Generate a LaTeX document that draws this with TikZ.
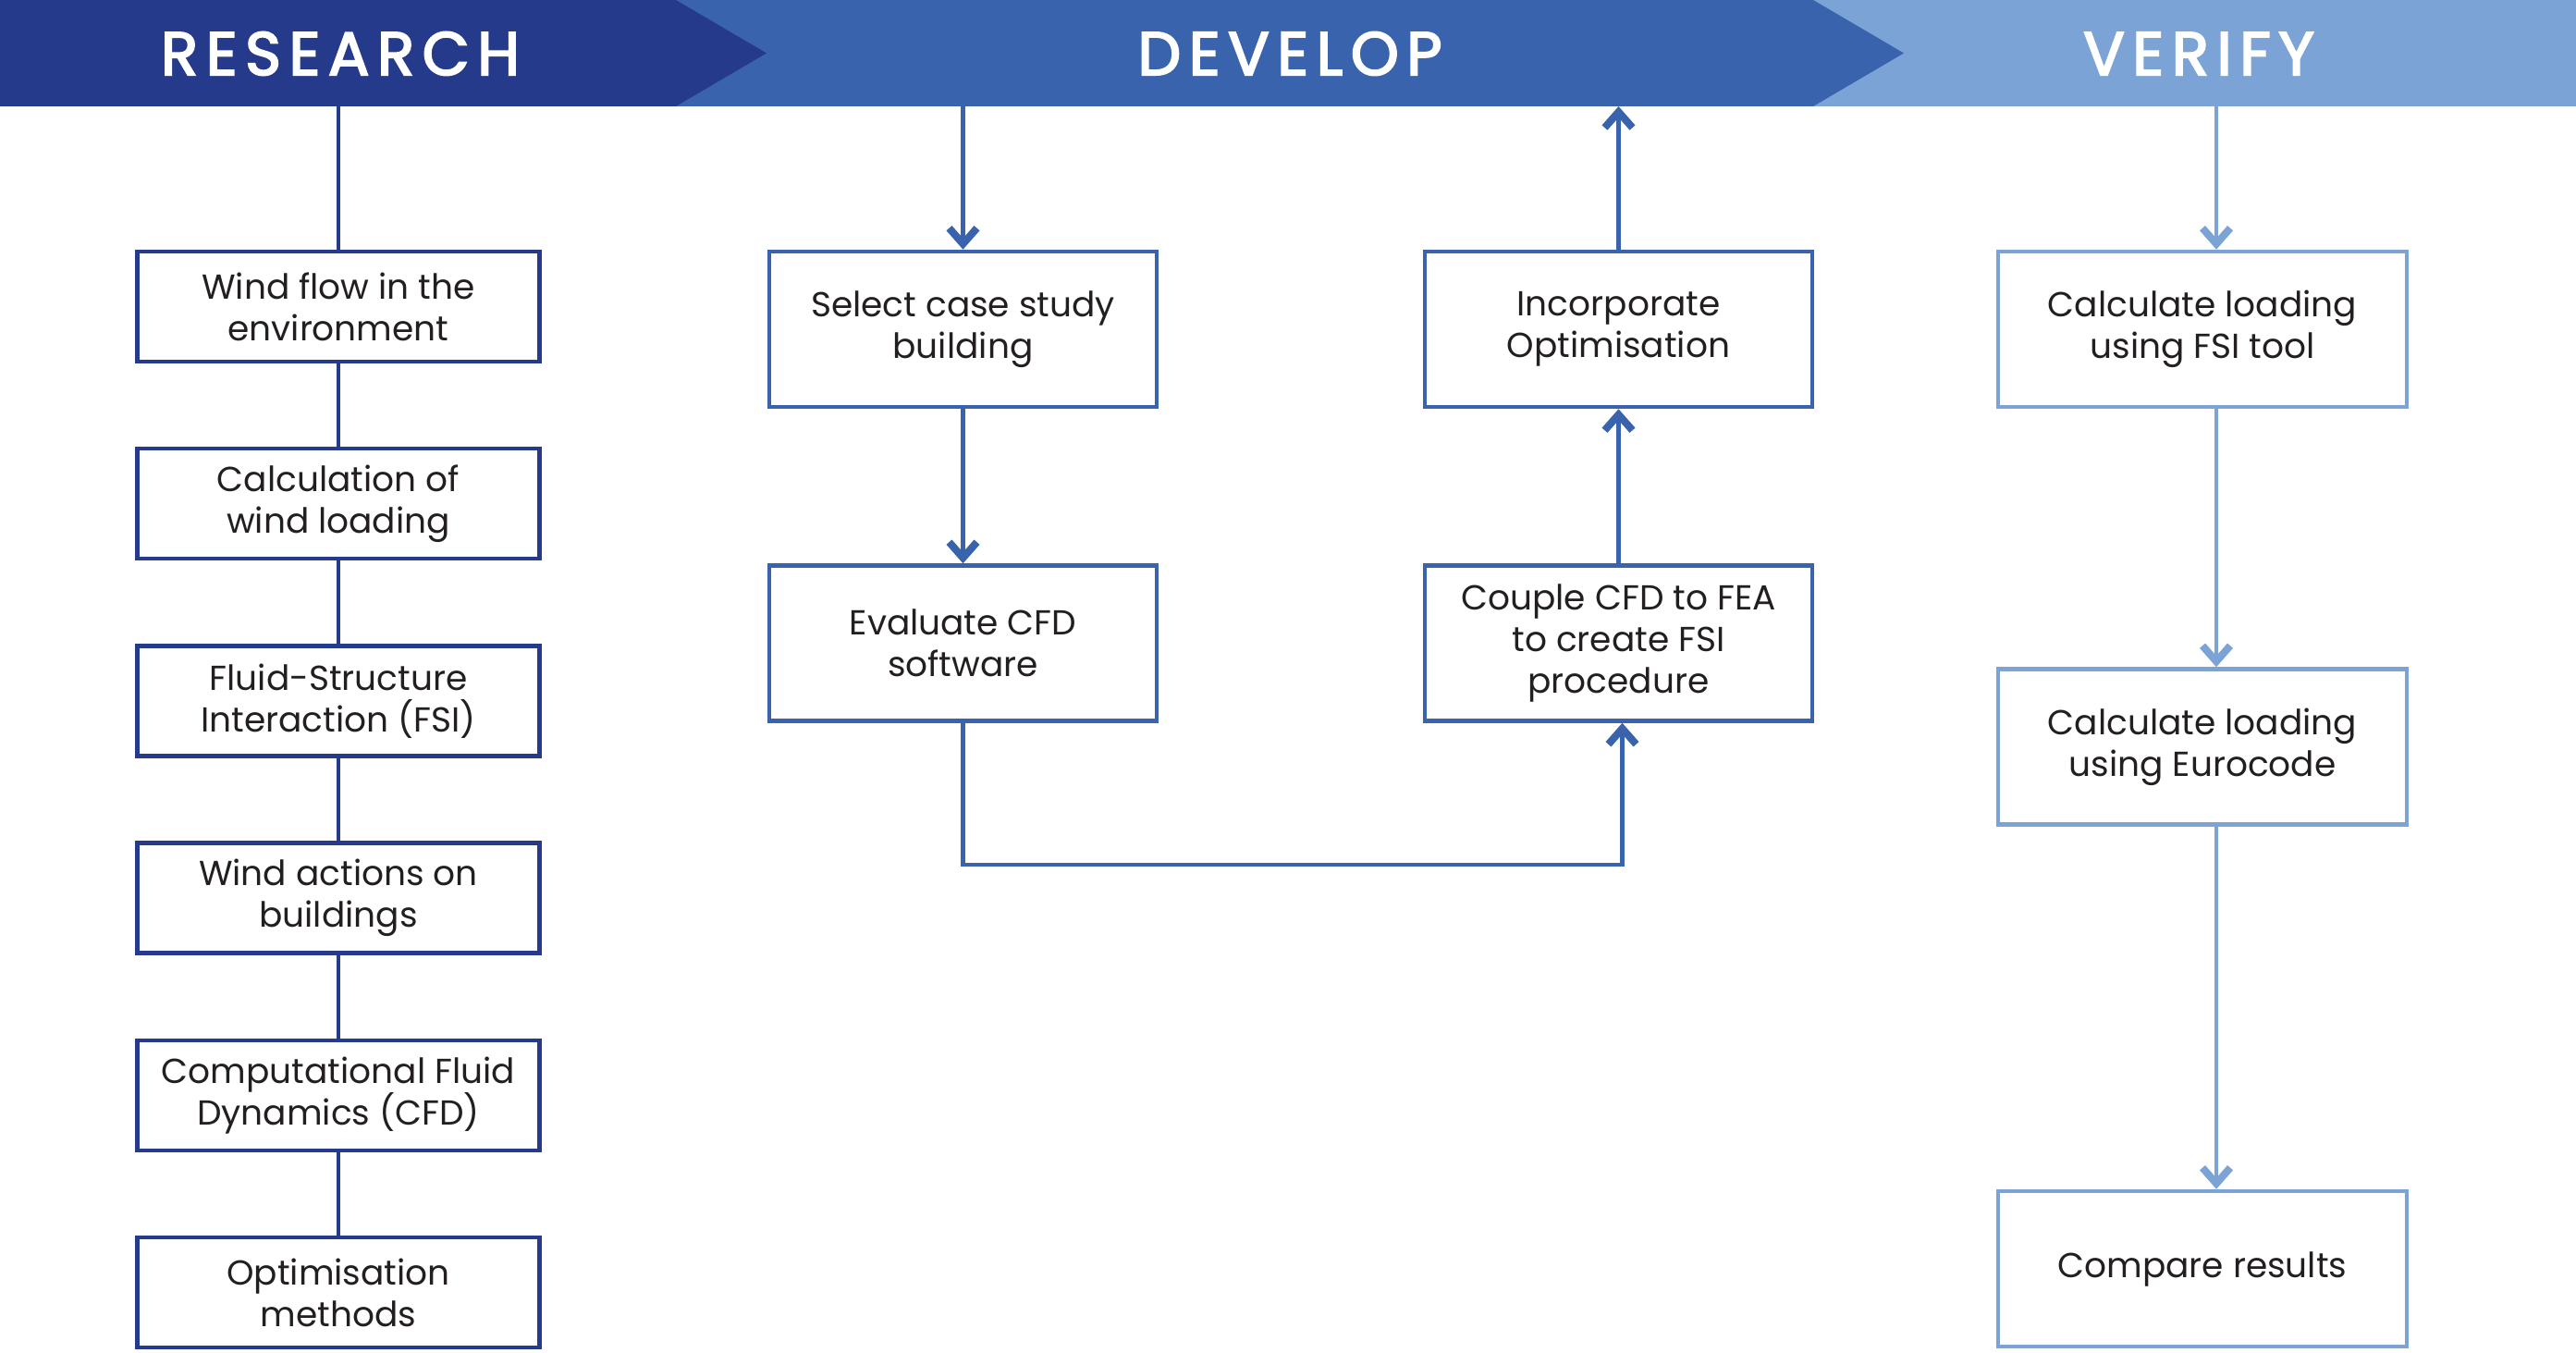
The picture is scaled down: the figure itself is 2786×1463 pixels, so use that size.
\documentclass[tikz,border=0pt]{standalone}
\usepackage{fontspec}
\setmainfont{Poppins}
\usetikzlibrary{arrows.meta}
\definecolor{cR}{HTML}{253A8A}
\definecolor{cD}{HTML}{3964AD}
\definecolor{cV}{HTML}{7BA3D5}
\definecolor{txt}{HTML}{231F20}
\tikzset{
  boxbase/.style={line width=4.5pt, fill=white, align=center, text=txt, inner sep=0pt,
    font=\fontsize{37.5}{45}\selectfont},
  rbox/.style={boxbase, draw=cR, minimum width=435pt, minimum height=119pt},
  dbox/.style={boxbase, draw=cD, minimum width=419pt, minimum height=168pt},
  vbox/.style={boxbase, draw=cV, minimum width=442pt, minimum height=168pt},
  hdrtext/.style={text=white, font=\fontsize{66}{66}\selectfont\addfontfeatures{LetterSpace=13,FakeBold=3}},
  rline/.style={draw=cR, line width=4.5pt},
  dline/.style={draw=cD, line width=4.5pt, -{Straight Barb[length=17pt,width=30pt,line width=8pt]}},
  vline/.style={draw=cV, line width=4.5pt, -{Straight Barb[length=17pt,width=30pt,line width=8pt]}},
}
\begin{document}
\begin{tikzpicture}[x=1pt,y=-1pt]
\useasboundingbox (0,0) rectangle (2786,1463);
\fill[white] (0,0) rectangle (2786,1463);
% header bands
\fill[cV] (1900,0) rectangle (2786,115);
\fill[cD] (700,0) -- (1961,0) -- (2059,57.5) -- (1961,115) -- (700,115) -- cycle;
\fill[cR] (0,0) -- (731,0) -- (829,57.5) -- (731,115) -- (0,115) -- cycle;
\node[hdrtext] (hR) at (368,58) {RESEARCH};
\node[hdrtext] (hD) at (1395,58) {DEVELOP};
\node[hdrtext] (hV) at (2378,58) {VERIFY};
% research column
\coordinate (rtop) at (366,115);
\node[rbox] (r1) at (366,331.5) {Wind flow in the\\environment};
\node[rbox] (r2) at (366,544.5) {Calculation of\\wind loading};
\node[rbox] (r3) at (366,758) {Fluid-Structure\\Interaction (FSI)};
\node[rbox] (r4) at (366,971) {Wind actions on\\buildings};
\node[rbox] (r5) at (366,1184.5) {Computational Fluid\\Dynamics (CFD)};
\node[rbox] (r6) at (366,1397.5) {Optimisation\\methods};
\draw[rline] (rtop) -- (r1.north);
\draw[rline] (r1.south) -- (r2.north);
\draw[rline] (r2.south) -- (r3.north);
\draw[rline] (r3.south) -- (r4.north);
\draw[rline] (r4.south) -- (r5.north);
\draw[rline] (r5.south) -- (r6.north);
% develop column
\coordinate (dtopL) at (1041.5,115);
\coordinate (dtopR) at (1750.5,115);
\coordinate (dloop) at (1041.5,935);
\node[dbox] (d1) at (1041.5,356) {Select case study\\building};
\node[dbox] (d2) at (1041.5,695.5) {Evaluate CFD\\software};
\node[dbox] (d3) at (1750.5,356) {Incorporate\\Optimisation};
\node[dbox] (d4) at (1750.5,695.5) {Couple CFD to FEA\\to create FSI\\procedure};
\draw[dline] (dtopL) -- (d1.north);
\draw[dline] (d1.south) -- (d2.north);
\draw[dline] (d2.south) -- (dloop) -| ([xshift=4pt]d4.south);
\draw[dline] (d4.north) -- (d3.south);
\draw[dline] (d3.north) -- (dtopR);
% verify column
\coordinate (vtop) at (2397,115);
\node[vbox] (v1) at (2382,356) {Calculate loading\\using FSI tool};
\node[vbox] (v2) at (2382,807.5) {Calculate loading\\using Eurocode};
\node[vbox] (v3) at (2382,1372) {Compare results};
\draw[vline] (vtop) -- ([xshift=15pt]v1.north);
\draw[vline] ([xshift=15pt]v1.south) -- ([xshift=15pt]v2.north);
\draw[vline] ([xshift=15pt]v2.south) -- ([xshift=15pt]v3.north);
\end{tikzpicture}
\end{document}
